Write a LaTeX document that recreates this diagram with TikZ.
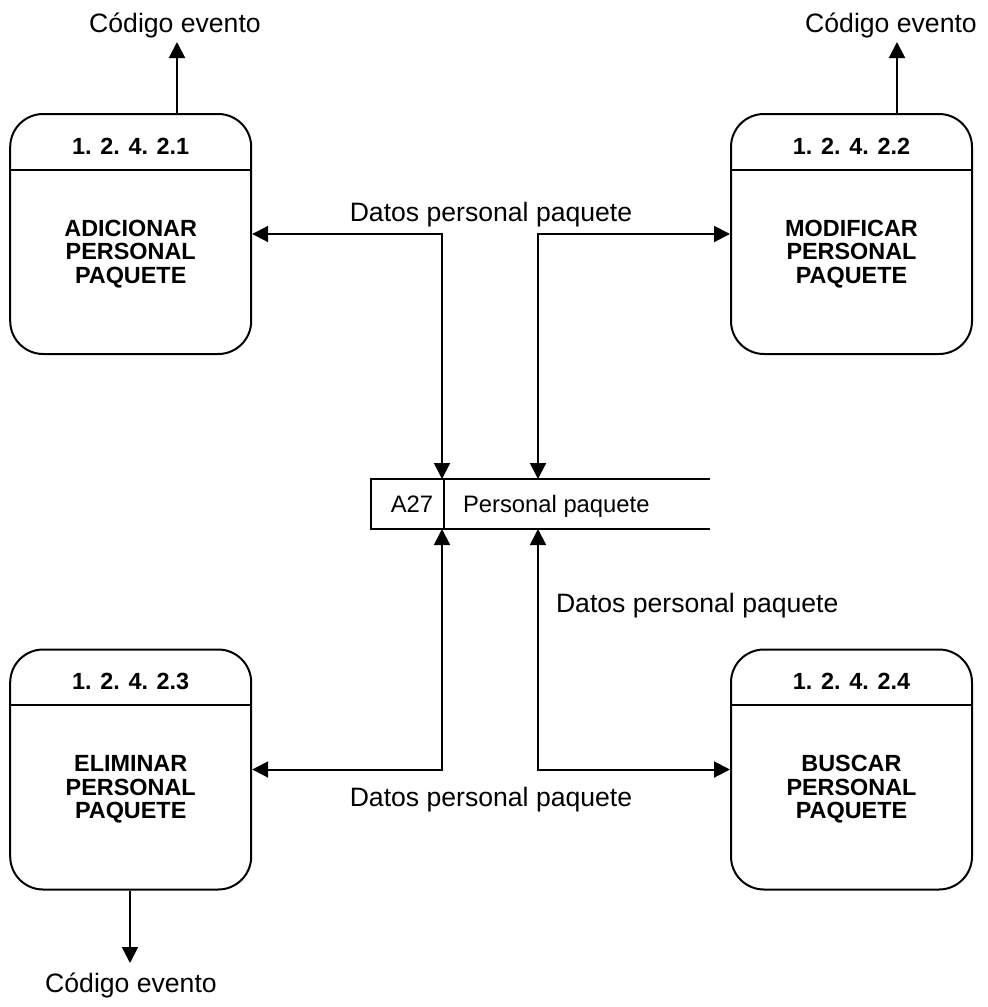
\documentclass[tikz,border=0pt]{standalone}
\usepackage{fontspec}
\setmainfont{Liberation Sans}
\usetikzlibrary{arrows.meta,calc}
\begin{document}
\begin{tikzpicture}[x=0.5pt,y=-0.5pt,
  line width=1pt,
  proc/.style={draw, rounded corners=16.5pt, minimum width=120.5pt, minimum height=120pt, inner sep=0pt},
  tip/.tip={Triangle[length=8pt,width=8pt]},
  flow/.style={-tip},
  bflow/.style={tip-tip},
  lbl/.style={font=\fontsize{13.3}{16}\selectfont, inner sep=0pt},
  slbl/.style={font=\fontsize{11.9}{14}\selectfont, inner sep=0pt},
  ptitle/.style={font=\bfseries\fontsize{11.7}{11.8}\selectfont, align=center, inner sep=0pt},
]
\useasboundingbox (0,0) rectangle (987,1007);

% process boxes
\node[proc] (p1) at (130.7,234) {};
\node[proc] (p2) at (851.5,234) {};
\node[proc] (p3) at (130.7,769.5) {};
\node[proc] (p4) at (851.5,769.5) {};
\foreach \p in {p1,p2,p3,p4}{
  \draw ($(\p.north west)+(0,56.5)$) -- ($(\p.north east)+(0,56.5)$);
}
\node[ptitle] (n1) at ($(p1.north)+(0,33)$) {1. 2. 4. 2.1};
\node[ptitle] (n2) at ($(p2.north)+(0,33)$) {1. 2. 4. 2.2};
\node[ptitle] (n3) at ($(p3.north)+(0,32.5)$) {1. 2. 4. 2.3};
\node[ptitle] (n4) at ($(p4.north)+(0,32.5)$) {1. 2. 4. 2.4};
\node[ptitle] (t1) at ($(p1.center)+(0,20)$) {ADICIONAR\\PERSONAL\\PAQUETE};
\node[ptitle] (t2) at ($(p2.center)+(0,20)$) {MODIFICAR\\PERSONAL\\PAQUETE};
\node[ptitle] (t3) at ($(p3.center)+(0,20)$) {ELIMINAR\\PERSONAL\\PAQUETE};
\node[ptitle] (t4) at ($(p4.center)+(0,20)$) {BUSCAR\\PERSONAL\\PAQUETE};

% data store
\node[minimum width=168.5pt, minimum height=24pt, inner sep=0pt] (st) at (540.5,504) {};
\draw (st.north east) -- (st.north west) -- (st.south west) -- (st.south east);
\coordinate (dv) at (444,504);
\draw (dv |- st.north) -- (dv |- st.south);
\node[slbl, anchor=base] (a27) at (412,512.5) {A27};
\node[slbl, anchor=base west] (pp) at (462,512.5) {Personal paquete};

% flows between store and processes
\coordinate (xl) at (442,504);
\coordinate (xr) at (538,504);
\draw[bflow] (p1.east) -| (xl |- st.north);
\draw[bflow] (p2.west) -| (xr |- st.north);
\draw[bflow] (p3.east) -| (xl |- st.south);
\draw[bflow] (p4.west) -| (xr |- st.south);
\node[lbl, anchor=base] (d1) at (491,221) {Datos personal paquete};
\node[lbl, anchor=base west] (d2) at (555,612) {Datos personal paquete};
\node[lbl, anchor=base] (d3) at (491,806) {Datos personal paquete};

% event code outputs
\coordinate (c1) at (177,42);
\coordinate (c2) at (897,42);
\coordinate (c3) at (130,963);
\draw[flow] (c1 |- p1.north) -- (c1);
\draw[flow] (c2 |- p2.north) -- (c2);
\draw[flow] (c3 |- p3.south) -- (c3);
\node[lbl, anchor=base] (e1) at (175,32) {Código evento};
\node[lbl, anchor=base] (e2) at (891,32) {Código evento};
\node[lbl, anchor=base] (e3) at (131,992) {Código evento};
\end{tikzpicture}
\end{document}
